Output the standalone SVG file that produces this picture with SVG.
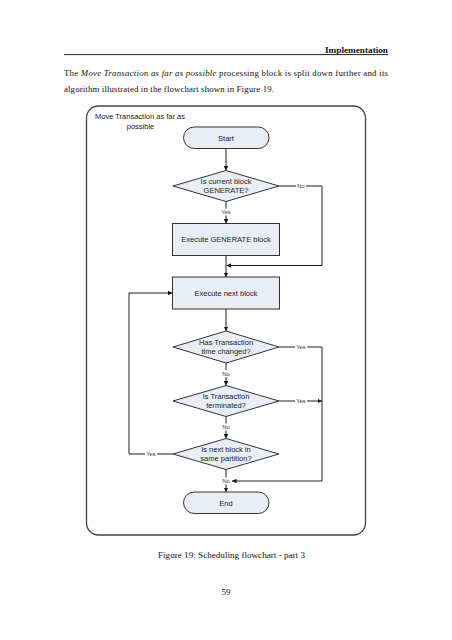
<svg xmlns="http://www.w3.org/2000/svg" width="452" height="640" viewBox="0 0 452 640">
<defs>
<marker id="ah" viewBox="0 0 10 10" refX="10" refY="5" markerWidth="4.5" markerHeight="4.5" orient="auto" markerUnits="userSpaceOnUse">
<path d="M0,0 L10,5 L0,10 z" fill="#111"/>
</marker>
</defs>
<style>
.page{font-family:"Liberation Serif","Times New Roman",serif;fill:#111}
.node{fill:#E9EEF6;stroke:#333;stroke-width:1}
.t{font-family:"Liberation Sans",Arial,sans-serif;font-size:7.5px;fill:#222;text-anchor:middle}
.lbl{font-family:"Liberation Sans",Arial,sans-serif;font-size:5.8px;fill:#333;text-anchor:middle}
.lb{fill:#fff}
.c{fill:none;stroke:#222;stroke-width:1}
.ca{fill:none;stroke:#222;stroke-width:1;marker-end:url(#ah)}
</style>
<rect width="452" height="640" fill="#fff"/>
<g id="header">
<text class="page" x="388" y="52.5" font-size="9" font-weight="bold" text-anchor="end" textLength="63" lengthAdjust="spacingAndGlyphs">Implementation</text>
<line x1="64" y1="54.6" x2="388" y2="54.6" stroke="#222" stroke-width="1"/>
<text class="page" x="64" y="75.5" font-size="8.8" textLength="324" lengthAdjust="spacing">The <tspan font-style="italic">Move Transaction as far as possible</tspan> processing block is split down further and its</text>
<text class="page" x="64" y="92" font-size="8.8" textLength="210" lengthAdjust="spacing">algorithm illustrated in the flowchart shown in Figure 19.</text>
</g>
<g id="container">
<rect x="86.5" y="106" width="279" height="429" rx="12" ry="12" fill="none" stroke="#444" stroke-width="1.3"/>
<text class="t" x="95" y="118.5" text-anchor="start" style="text-anchor:start">Move Transaction as far as</text>
<text class="t" x="140.5" y="129">possible</text>
</g>
<g id="connectors">
<path class="ca" d="M226,148.5 V170.5"/>
<path class="ca" d="M226,201.5 V223.5"/>
<path class="ca" d="M279,186 H322 V265.5 H226.5"/>
<path class="ca" d="M226,255.5 V277"/>
<path class="ca" d="M226,309 V331"/>
<path class="ca" d="M279,347 H322 V481 H232"/>
<path class="ca" d="M226,363 V385.5"/>
<path class="ca" d="M279,401 H322"/>
<path class="ca" d="M226,416.5 V438.5"/>
<path class="ca" d="M173,454 H129 V293 H172.5"/>
<path class="ca" d="M226,469.5 V492"/>
<rect class="lb" x="296" y="182.5" width="10" height="7"/><text class="lbl" x="301" y="188">No</text>
<rect class="lb" x="220" y="208.5" width="12" height="7"/><text class="lbl" x="226" y="214">Yes</text>
<rect class="lb" x="295" y="343.5" width="12" height="7"/><text class="lbl" x="301" y="349">Yes</text>
<rect class="lb" x="221" y="370" width="10" height="7"/><text class="lbl" x="226" y="375.5">No</text>
<rect class="lb" x="295" y="397.5" width="12" height="7"/><text class="lbl" x="301" y="403">Yes</text>
<rect class="lb" x="221" y="423.5" width="10" height="7"/><text class="lbl" x="226" y="429">No</text>
<rect class="lb" x="145" y="450.5" width="12" height="7"/><text class="lbl" x="151" y="456">Yes</text>
<rect class="lb" x="221" y="477.5" width="10" height="7"/><text class="lbl" x="226" y="483">No</text>
</g>
<g id="start">
<rect class="node" x="183.5" y="127" width="85.5" height="21.5" rx="10.75" ry="10.75"/>
<text class="t" x="226" y="140.5">Start</text>
</g>
<g id="d1">
<polygon class="node" points="226,170.5 279,186 226,201.5 173,186"/>
<text class="t" x="226" y="183.5">Is current block</text>
<text class="t" x="226" y="192.5">GENERATE?</text>
</g>
<g id="genblock">
<rect class="node" x="172.5" y="223.5" width="107" height="32"/>
<text class="t" x="226" y="242">Execute GENERATE block</text>
</g>
<g id="nextblock">
<rect class="node" x="172.5" y="277" width="107" height="32"/>
<text class="t" x="226" y="295.5">Execute next block</text>
</g>
<g id="d2">
<polygon class="node" points="226,331 279,347 226,363 173,347"/>
<text class="t" x="226" y="344.5">Has Transaction</text>
<text class="t" x="226" y="353.5">time changed?</text>
</g>
<g id="d3">
<polygon class="node" points="226,385.5 279,401 226,416.5 173,401"/>
<text class="t" x="226" y="398.5">Is Transaction</text>
<text class="t" x="226" y="407.5">terminated?</text>
</g>
<g id="d4">
<polygon class="node" points="226,438.5 279,454 226,469.5 173,454"/>
<text class="t" x="226" y="452">Is next block in</text>
<text class="t" x="226" y="461">same partition?</text>
</g>
<g id="end">
<rect class="node" x="183.5" y="492" width="85.5" height="21.5" rx="10.75" ry="10.75"/>
<text class="t" x="226" y="505.5">End</text>
</g>
<g id="footer">
<text class="page" x="231.5" y="558" font-size="9" text-anchor="middle" textLength="147" lengthAdjust="spacingAndGlyphs">Figure 19: Scheduling flowchart - part 3</text>
<text class="page" x="226" y="595" font-size="9" text-anchor="middle">59</text>
</g>
</svg>
